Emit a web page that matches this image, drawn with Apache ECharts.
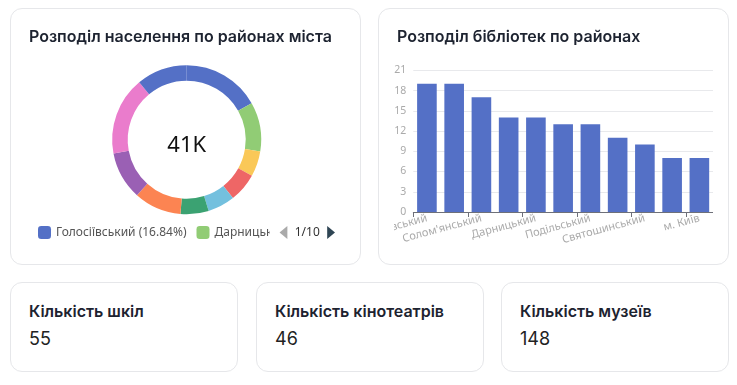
<!DOCTYPE html>
<html>
<head>
<meta charset="utf-8">
<script src="https://cdn.jsdelivr.net/npm/echarts@6/dist/echarts.min.js"></script>
<style>
  html, body { margin: 0; padding: 0; background: #fff; width: 737px; height: 385px; overflow: hidden; }
  body { position: relative; font-family: Inter, "Noto Sans", sans-serif; }
  .card { position: absolute; background: #fff; border: 1px solid #e6e7ea; border-radius: 12px; box-sizing: border-box; overflow: hidden; }
  .ctitle { position: absolute; left: 18px; font-size: 16px; font-weight: 600; color: #1d2330; line-height: 20px; white-space: nowrap; z-index: 2; }
  .stitle { position: absolute; left: 18px; top: 18px; font-size: 16px; font-weight: 600; color: #1d2330; line-height: 20px; white-space: nowrap; }
  .sval { position: absolute; left: 18px; top: 45px; font-size: 18px; font-weight: 400; color: #222; line-height: 22px; }
  .chart { position: absolute; }
</style>
</head>
<body>
<div class="card" id="c1" style="left:10px;top:8px;width:351px;height:257px;">
  <div class="ctitle" style="top:17px;">Розподіл населення по районах міста</div>
  <div class="chart" id="pie" style="left:0;top:0;width:351px;height:257px;"></div>
</div>
<div class="card" id="c2" style="left:378px;top:8px;width:351px;height:257px;">
  <div class="ctitle" style="top:17px;">Розподіл бібліотек по районах</div>
  <div class="chart" id="bar" style="left:15px;top:40px;width:319px;height:217px;"></div>
</div>
<div id="stats"></div>
<script>
// ---- Data ----
const districtNames = ['Голосіївський', 'Дарницький', 'Деснянський', 'Дніпровський', 'Оболонський', 'Печерський', 'Подільський', 'Святошинський', "Солом'янський", 'Шевченківський'];
const populationValues = [6904, 4390, 2255, 2580, 2420, 2500, 4220, 4260, 6960, 4510];
const centerLabel = '41K';

const libraryCategories = ['Шевченківський', 'Голосіївський', "Солом'янський", 'Деснянський', 'Дарницький', 'Оболонський', 'Подільський', 'Дніпровський', 'Святошинський', 'Печерський', 'м. Київ'];
const libraryValues = [19, 19, 17, 14, 14, 13, 13, 11, 10, 8, 8];
const yTicks = [0, 3, 6, 9, 12, 15, 18, 21];

const statLabels = ['Кількість шкіл', 'Кількість кінотеатрів', 'Кількість музеїв'];
const statValues = [55, 46, 148];

const palette = ['#5470c6', '#91cc75', '#fac858', '#ee6666', '#73c0de', '#3ba272', '#fc8452', '#9a60b4', '#ea7ccc'];

// ---- Stat cards ----
const statLefts = [10, 256, 501];
const statsEl = document.getElementById('stats');
statLabels.forEach((lbl, i) => {
  const d = document.createElement('div');
  d.className = 'card';
  d.style.cssText = `left:${statLefts[i]}px;top:282px;width:228px;height:90px;`;
  d.innerHTML = `<div class="stitle">${lbl}</div><div class="sval">${statValues[i]}</div>`;
  statsEl.appendChild(d);
});

// ---- Pie ----
const total = populationValues.reduce((a, b) => a + b, 0);
const pieData = districtNames.map((n, i) => ({ name: n, value: populationValues[i] }));
const pie = echarts.init(document.getElementById('pie'), null, { renderer: 'canvas' });
pie.setOption({
  animation: false,
  color: palette,
  textStyle: { fontFamily: '"Noto Sans", sans-serif' },
  title: {
    text: centerLabel, left: 175.7, top: 137, padding: 0, textAlign: 'center', textVerticalAlign: 'middle',
    textStyle: { fontSize: 22, fontWeight: 'normal', color: '#111', fontFamily: '"Noto Sans", sans-serif' }
  },
  legend: {
    type: 'scroll', orient: 'horizontal', left: 27, top: 217, width: 297, padding: 0,
    icon: 'roundRect', itemWidth: 13, itemHeight: 13, itemGap: 10,
    textStyle: { fontSize: 12, color: '#555', fontFamily: '"Noto Sans", sans-serif' },
    pageIconColor: '#2f4554', pageIconInactiveColor: '#aaa', pageIconSize: 13,
    pageTextStyle: { color: '#333', fontSize: 12 },
    formatter: function (name) {
      const v = populationValues[districtNames.indexOf(name)];
      return name + ' (' + (v / total * 100).toFixed(2) + '%)';
    }
  },
  series: [{
    type: 'pie', radius: [59, 74.5], center: [175.7, 130.7], startAngle: 90,
    label: { show: false }, labelLine: { show: false },
    itemStyle: { borderWidth: 0 },
    data: pieData
  }]
});

// ---- Bar ----
const bar = echarts.init(document.getElementById('bar'), null, { renderer: 'canvas' });
bar.setOption({
  animation: false,
  textStyle: { fontFamily: '"Noto Sans", sans-serif' },
  grid: { left: 19.3, right: 0, top: 21.3, bottom: 54, outerBoundsMode: 'none', containLabel: false },
  xAxis: {
    type: 'category', data: libraryCategories,
    axisLine: { lineStyle: { color: '#6E7079' } },
    axisTick: { show: true, interval: 1, lineStyle: { color: '#6E7079' } },
    axisLabel: { interval: 1, rotate: 15, color: '#aaa', fontSize: 11, margin: 6, hideOverlap: false }
  },
  yAxis: {
    type: 'value', min: yTicks[0], max: yTicks[yTicks.length - 1], interval: 3,
    axisLabel: { color: '#aaa', fontSize: 10.5, margin: 7 },
    splitLine: { lineStyle: { color: '#e8e9ec' } }
  },
  series: [{
    type: 'bar', data: libraryValues, barWidth: '72%',
    itemStyle: { color: '#5470c6' }
  }]
});
</script>
</body>
</html>
